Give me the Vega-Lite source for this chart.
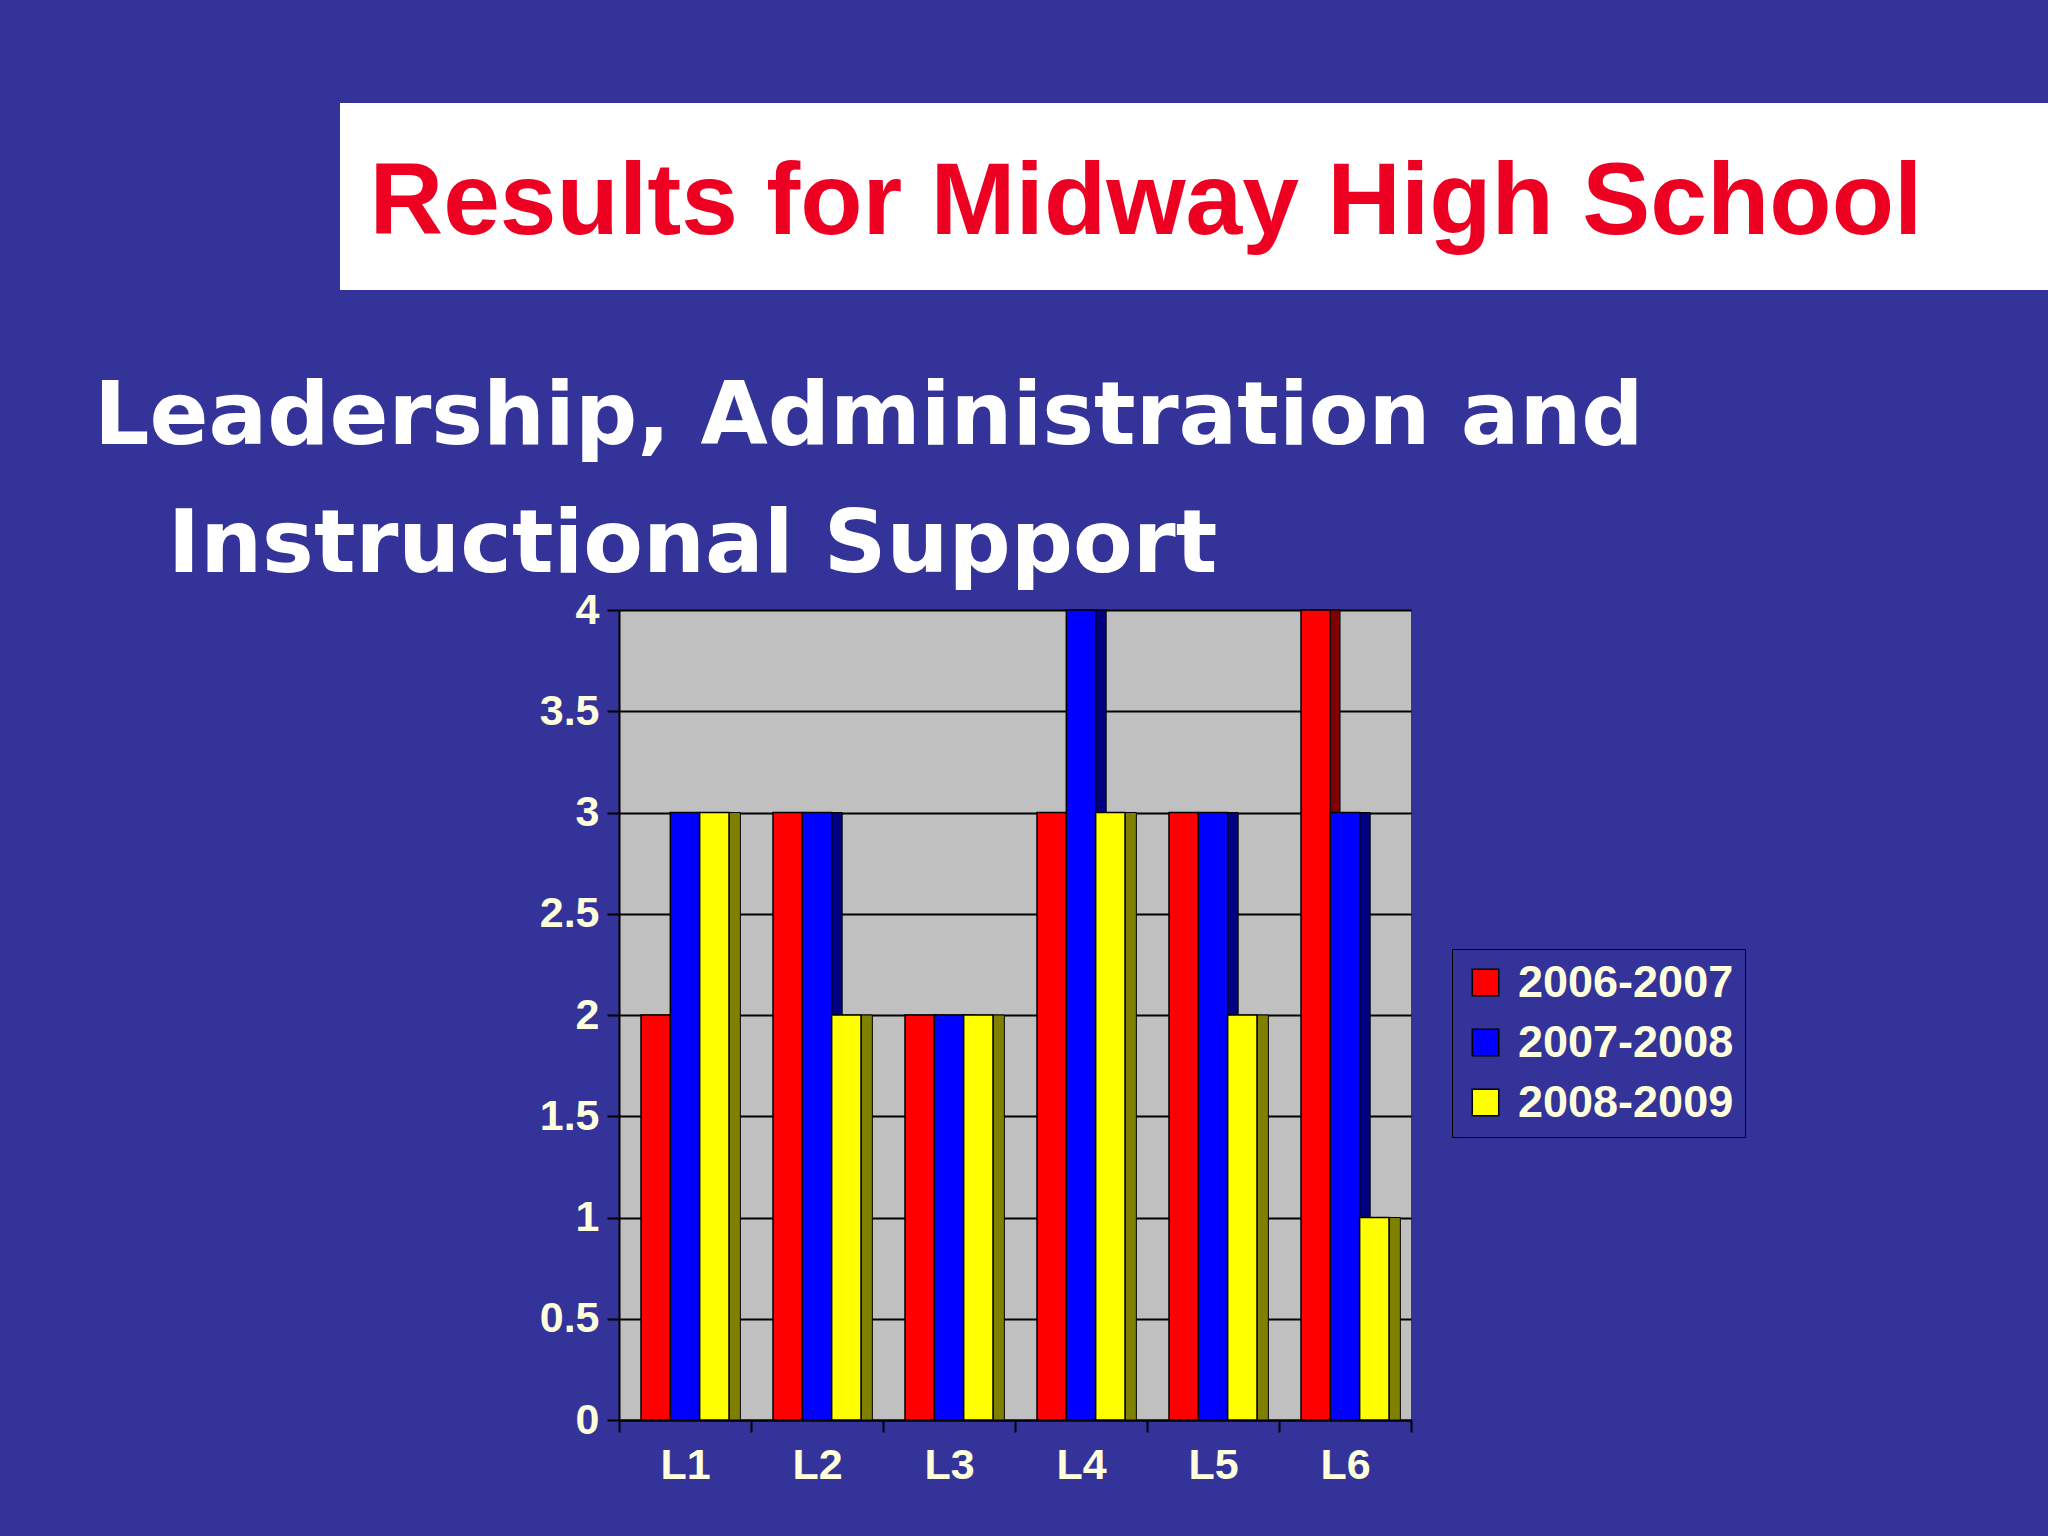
{
  "$schema": "https://vega.github.io/schema/vega-lite/v6.json",
  "width": 792,
  "height": 810,
  "autosize": {"type": "none"},
  "padding": {"left": 619, "top": 610, "right": 637, "bottom": 116},
  "background": "#333399",
  "title": {
    "text": "\u200b\u00a0\u00a0\u00a0\u00a0\u00a0\u00a0\u00a0\u00a0\u00a0\u2009Results for Midway High School",
    "subtitle": ["Leadership, Administration and", "\u200b\u2002\u00a0Instructional Support"],
    "anchor": "start",
    "frame": "group",
    "dx": -525,
    "dy": 507,
    "offset": 20,
    "font": "Liberation Sans",
    "fontSize": 102,
    "fontWeight": "bold",
    "color": "#EE0022",
    "subtitleFont": "DejaVu Sans",
    "subtitleFontSize": 87,
    "subtitleFontWeight": "bold",
    "subtitleColor": "#FFFFFF",
    "subtitleLineHeight": 128,
    "subtitlePadding": 120
  },
  "config": {
    "view": {"fill": "#C0C0C0", "stroke": null},
    "axis": {
      "labelFont": "Liberation Sans",
      "labelFontWeight": "bold",
      "labelFontSize": 43,
      "labelColor": "#FFFFDD",
      "domainColor": "#000000",
      "domainWidth": 2,
      "tickColor": "#000000",
      "tickWidth": 2,
      "tickSize": 12,
      "title": null
    },
    "axisX": {"labelAngle": 0, "tickBand": "extent", "labelPadding": 12, "labelAlign": "center"},
    "axisY": {"labelPadding": 8}
  },
  "data": {
    "values": [
      {"cat": "L1", "year": "2006-2007", "score": 2},
      {"cat": "L1", "year": "2007-2008", "score": 3},
      {"cat": "L1", "year": "2008-2009", "score": 3},
      {"cat": "L2", "year": "2006-2007", "score": 3},
      {"cat": "L2", "year": "2007-2008", "score": 3},
      {"cat": "L2", "year": "2008-2009", "score": 2},
      {"cat": "L3", "year": "2006-2007", "score": 2},
      {"cat": "L3", "year": "2007-2008", "score": 2},
      {"cat": "L3", "year": "2008-2009", "score": 2},
      {"cat": "L4", "year": "2006-2007", "score": 3},
      {"cat": "L4", "year": "2007-2008", "score": 4},
      {"cat": "L4", "year": "2008-2009", "score": 3},
      {"cat": "L5", "year": "2006-2007", "score": 3},
      {"cat": "L5", "year": "2007-2008", "score": 3},
      {"cat": "L5", "year": "2008-2009", "score": 2},
      {"cat": "L6", "year": "2006-2007", "score": 4},
      {"cat": "L6", "year": "2007-2008", "score": 3},
      {"cat": "L6", "year": "2008-2009", "score": 1}
    ]
  },
  "layer": [
    {
      "data": {"values": [{"banner": "title"}]},
      "mark": {"type": "rect", "fill": "#FFFFFF", "clip": false},
      "encoding": {
        "x": {"value": -279},
        "x2": {"value": 1429},
        "y": {"value": -507},
        "y2": {"value": -320}
      }
    },
    {
      "mark": {"type": "bar", "stroke": "#000000", "strokeWidth": 1},
      "encoding": {
        "x": {
          "field": "cat",
          "type": "nominal",
          "scale": {"paddingInner": 0, "paddingOuter": 0},
          "axis": {"labelAngle": 0, "tickBand": "extent", "labelPadding": 12}
        },
        "xOffset": {"field": "year", "type": "nominal", "scale": {"paddingInner": 0.625, "paddingOuter": 1.0625, "align": 0.8235}},
        "y": {
          "field": "score",
          "type": "quantitative",
          "scale": {"domain": [0, 4], "nice": false},
          "axis": {
            "values": [0, 0.5, 1, 1.5, 2, 2.5, 3, 3.5, 4],
            "format": "~g",
            "grid": true,
            "gridColor": "#000000",
            "gridWidth": 2,
            "gridOpacity": 1,
            "labelPadding": 8
          }
        },
        "color": {
          "field": "year",
          "type": "nominal",
          "scale": {"domain": ["2006-2007", "2007-2008", "2008-2009"], "range": ["#800000", "#000080", "#808000"]},
          "legend": null
        }
      }
    },
    {
      "mark": {"type": "bar", "stroke": "#000000", "strokeWidth": 1.5},
      "encoding": {
        "x": {
          "field": "cat",
          "type": "nominal",
          "scale": {"paddingInner": 0, "paddingOuter": 0},
          "axis": {"labelAngle": 0, "tickBand": "extent", "labelPadding": 12}
        },
        "xOffset": {"field": "year", "type": "nominal", "scale": {"paddingInner": 0, "paddingOuter": 0.75}},
        "y": {
          "field": "score",
          "type": "quantitative",
          "scale": {"domain": [0, 4], "nice": false},
          "axis": {
            "values": [0, 0.5, 1, 1.5, 2, 2.5, 3, 3.5, 4],
            "format": "~g",
            "grid": true,
            "gridColor": "#000000",
            "gridWidth": 2,
            "gridOpacity": 1,
            "labelPadding": 8
          }
        },
        "color": {
          "field": "year",
          "type": "nominal",
          "scale": {"domain": ["2006-2007", "2007-2008", "2008-2009"], "range": ["#FF0000", "#0000FF", "#FFFF00"]},
          "legend": {
            "title": null,
            "orient": "none",
            "legendX": 833,
            "legendY": 339,
            "fillColor": "#333399",
            "strokeColor": "#000000",
            "padding": 11,
            "symbolType": "square",
            "symbolSize": 700,
            "symbolStrokeColor": "#000000",
            "symbolStrokeWidth": 1.5,
            "symbolOpacity": 1,
            "labelFont": "Liberation Sans",
            "labelFontWeight": "bold",
            "labelFontSize": 45,
            "labelLimit": 400,
            "labelColor": "#FFFFDD",
            "labelOffset": 10,
            "rowPadding": 14
          }
        }
      }
    }
  ],
  "resolve": {"scale": {"xOffset": "independent", "color": "independent"}}
}
